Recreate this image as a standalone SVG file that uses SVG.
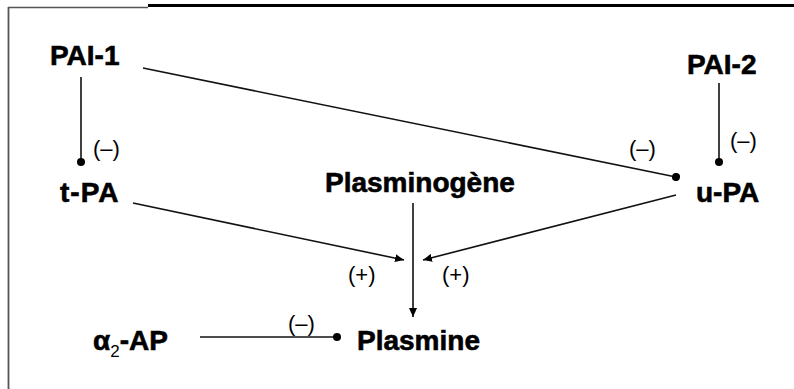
<svg xmlns="http://www.w3.org/2000/svg" width="794" height="389" viewBox="0 0 794 389">
<defs>
<style>
.lbl{font-family:"Liberation Sans",Arial,sans-serif;font-weight:bold;font-size:28px;fill:#000;stroke:#000;stroke-width:0.6}
.sgn{font-family:"Liberation Sans",Arial,sans-serif;font-size:22px;fill:#000}
.ln{stroke:#111;stroke-width:1.6;fill:none}
</style>
<marker id="dot" markerUnits="userSpaceOnUse" markerWidth="10" markerHeight="10" refX="5" refY="5" orient="auto">
<circle cx="5" cy="5" r="4" fill="#000"/>
</marker>
<marker id="arr" markerUnits="userSpaceOnUse" markerWidth="10" markerHeight="8" refX="9" refY="4" orient="auto">
<path d="M0,0 L9,4 L0,8 Z" fill="#000"/>
</marker>
</defs>
<rect width="794" height="389" fill="#fff"/>
<g id="frame">
<line x1="8" y1="7.5" x2="148" y2="7.5" stroke="#555" stroke-width="1.5"/>
<line x1="148" y1="5.5" x2="794" y2="5.5" stroke="#000" stroke-width="3"/>
<line x1="8.5" y1="7" x2="8.5" y2="389" stroke="#555" stroke-width="1.8"/>
</g>
<g id="connectors">
<line class="ln" x1="81" y1="77" x2="81" y2="162" marker-end="url(#dot)"/>
<line class="ln" x1="143" y1="68" x2="676" y2="177" marker-end="url(#dot)"/>
<line class="ln" x1="719" y1="83" x2="719" y2="162" marker-end="url(#dot)"/>
<line class="ln" x1="133" y1="203" x2="404" y2="260" marker-end="url(#arr)"/>
<line class="ln" x1="676" y1="195" x2="423" y2="260" marker-end="url(#arr)"/>
<line class="ln" x1="413" y1="203" x2="413" y2="317" marker-end="url(#arr)"/>
<line class="ln" x1="200" y1="337" x2="337" y2="337" marker-end="url(#dot)"/>
<text class="sgn" x="93" y="156">(–)</text>
<text class="sgn" x="629" y="156">(–)</text>
<text class="sgn" x="730" y="148">(–)</text>
<text class="sgn" x="288" y="331">(–)</text>
<text class="sgn" x="348" y="282">(+)</text>
<text class="sgn" x="442" y="282">(+)</text>
</g>
<g id="PAI-1"><text class="lbl" x="50" y="65">PAI-1</text></g>
<g id="PAI-2"><text class="lbl" x="687" y="74">PAI-2</text></g>
<g id="t-PA"><text class="lbl" x="60" y="202" letter-spacing="1">t-PA</text></g>
<g id="u-PA"><text class="lbl" x="696" y="202">u-PA</text></g>
<g id="Plasminogene"><text class="lbl" x="325" y="192">Plasminogène</text></g>
<g id="Plasmine"><text class="lbl" x="357" y="350">Plasmine</text></g>
<g id="a2-AP"><text class="lbl" x="93" y="350">α<tspan font-size="17" font-weight="normal" stroke-width="0" dy="7">2</tspan><tspan dy="-7">-AP</tspan></text></g>
</svg>
